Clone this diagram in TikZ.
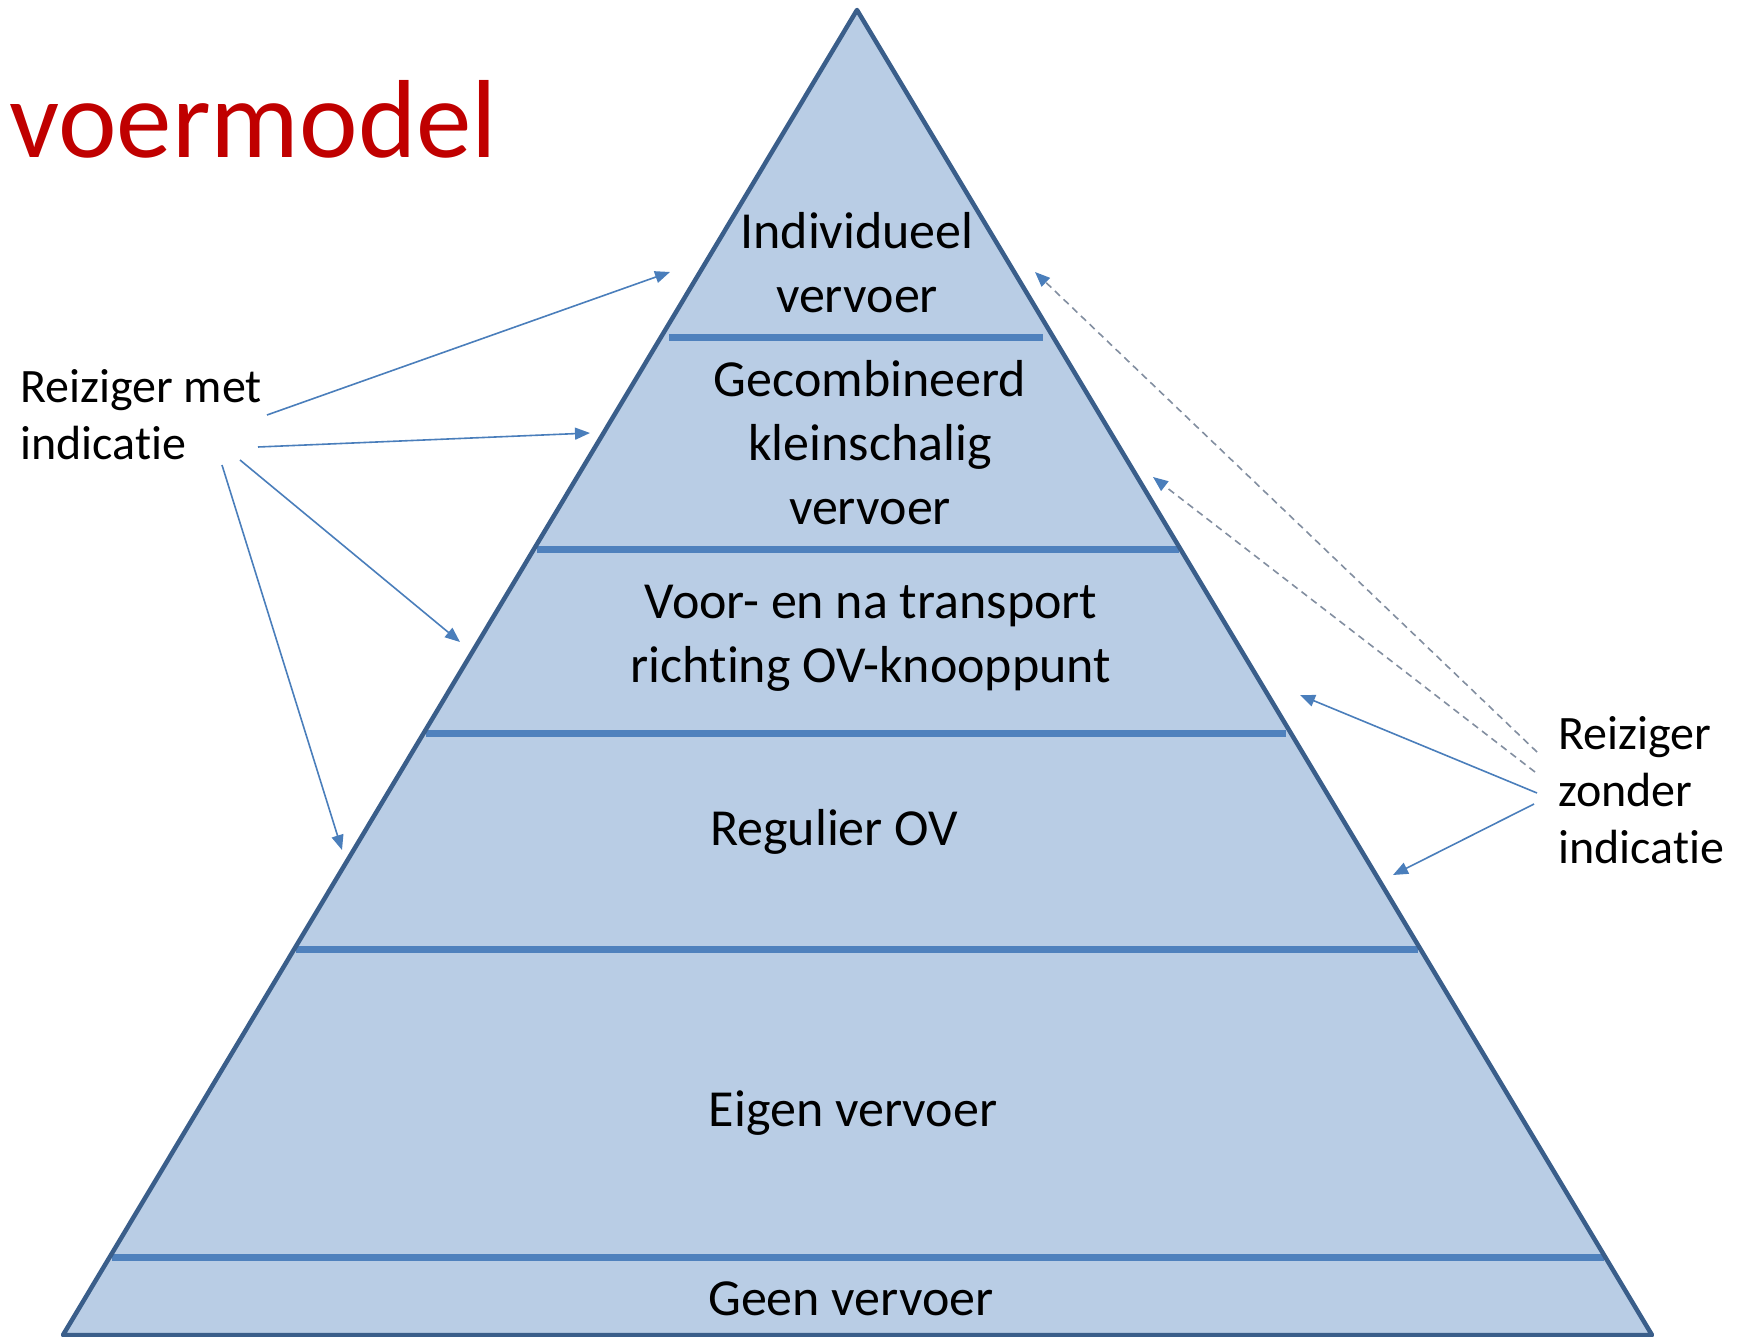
\documentclass[tikz,border=0pt]{standalone}
\usepackage{fontspec}
\setmainfont{Carlito}[Ligatures=NoCommon]
\usetikzlibrary{arrows.meta}
\definecolor{vlak}{RGB}{185,205,229}
\definecolor{rand}{RGB}{58,94,138}
\definecolor{streep}{RGB}{79,129,189}
\definecolor{pijlblauw}{RGB}{74,126,187}
\definecolor{stipgrijs}{RGB}{130,142,160}
\definecolor{titelrood}{RGB}{192,0,0}

\begin{document}
\begin{tikzpicture}[x=1pt,y=-1pt,
  laag/.style={inner sep=0pt,align=center,font=\fontsize{52}{64}\selectfont},
  reiziger/.style={inner sep=0pt,align=left,font=\fontsize{48}{57}\selectfont},
  pijl/.style={pijlblauw,line width=1.6pt,-{Triangle[length=15pt,width=12pt]}},
  stippijl/.style={stipgrijs,line width=1.6pt,dash pattern=on 7pt off 5pt,
    -{Triangle[length=15pt,width=12pt,color=pijlblauw]}}]
 \useasboundingbox (0,0) rectangle (1753,1337);

 %Title
 \node[anchor=base west,inner sep=0pt,text=titelrood,font=\fontsize{111}{130}\selectfont] (titel) at (9,158) {voermodel};

 %Pyramid
 \coordinate (top) at (857,10);
 \coordinate (lo) at (63,1335);
 \coordinate (ro) at (1652,1335);
 \fill[vlak] (top) -- (lo) -- (ro) -- cycle;

 %Layer lines
 \draw[streep,line width=7pt] (669,338) -- (1043,338);
 \draw[streep,line width=7pt] (537,549) -- (1179,549);
 \draw[streep,line width=7pt] (426,733) -- (1286,733);
 \draw[streep,line width=7pt] (296,949) -- (1418,949);
 \draw[streep,line width=7pt] (112,1257) -- (1604,1257);
 \draw[rand,line width=4.5pt,line join=round] (top) -- (lo) -- (ro) -- cycle;

 %Layers
 \node[laag] (indiv) at (857,263) {Individueel\\vervoer};
 \node[laag] (gecomb) at (870,443) {Gecombineerd\\kleinschalig\\vervoer};
 \node[laag] (voor) at (871,638) {Voor- en na transport\\richting OV-knooppunt};
 \node[laag] (regulier) at (834,832) {Regulier OV};
 \node[laag] (eigen) at (853,1113) {Eigen vervoer};
 \node[laag] (geen) at (851,1299) {Geen vervoer};

 %Travellers
 \node[reiziger,anchor=west] (met) at (20,415) {Reiziger met\\indicatie};
 \node[reiziger,anchor=west] (zonder) at (1558,790) {Reiziger\\zonder\\indicatie};

 %Arrows left
 \coordinate (m1) at (267,415);
 \coordinate (m2) at (258,447);
 \coordinate (m3) at (240,460);
 \coordinate (m4) at (222,465);
 \coordinate (e1) at (670,272);
 \coordinate (e2) at (590,433);
 \coordinate (e3) at (460,642);
 \coordinate (e4) at (342,850);
 \draw[pijl] (m1) -- (e1);
 \draw[pijl] (m2) -- (e2);
 \draw[pijl] (m3) -- (e3);
 \draw[pijl] (m4) -- (e4);

 %Arrows right
 \coordinate (z1) at (1537,793);
 \coordinate (z2) at (1534,804);
 \coordinate (z3) at (1537,752);
 \coordinate (z4) at (1535,772);
 \coordinate (f1) at (1300,695);
 \coordinate (f2) at (1393,875);
 \coordinate (f3) at (1035,272);
 \coordinate (f4) at (1153,477);
 \draw[pijl] (z1) -- (f1);
 \draw[pijl] (z2) -- (f2);
 \draw[stippijl] (z3) -- (f3);
 \draw[stippijl] (z4) -- (f4);

\end{tikzpicture}
\end{document}
